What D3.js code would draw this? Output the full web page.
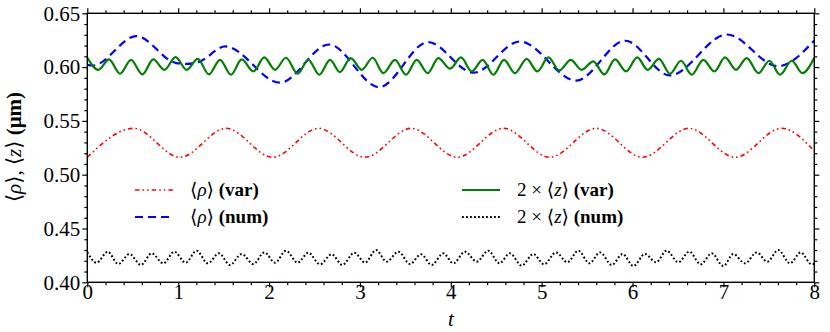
<!DOCTYPE html>
<html><head><meta charset="utf-8">
<script src="https://cdn.jsdelivr.net/npm/d3@7"></script>
<style>
body{margin:0;background:#fff;}
svg{display:block;font-family:"Liberation Serif","DejaVu Serif",serif;}
text{font-family:"Liberation Serif","DejaVu Serif",serif;}
</style></head>
<body><svg id="c" width="830" height="332"></svg>
<script>
// ---- data ----
const xTicks = [0,1,2,3,4,5,6,7,8];
const yTicks = [0.40,0.45,0.50,0.55,0.60,0.65];

const tRed = [0, 0.51, 1.02, 1.527, 2.04, 2.545, 3.055, 3.563, 4.07, 4.58, 5.09, 5.6, 6.11, 6.62, 7.13, 7.64, 8.0];
const vRed = [0.5162, 0.5431, 0.5162, 0.5431, 0.5162, 0.5431, 0.5162, 0.5431, 0.5162, 0.5431, 0.5162, 0.5431, 0.5162, 0.5431, 0.5162, 0.5431, 0.522];

const tBlue = [0, 0.06, 0.54, 0.97, 1.10, 1.22, 1.52, 2.12, 2.66, 3.21, 3.75, 4.25, 4.76, 5.38, 5.92, 6.41, 7.04, 7.6, 8.0];
const vBlue = [0.602, 0.6015, 0.6288, 0.604, 0.6030, 0.6045, 0.6192, 0.5855, 0.621, 0.5814, 0.6232, 0.5948, 0.6238, 0.5875, 0.6245, 0.5923, 0.6303, 0.6009, 0.6248];

const tGreen = [0,0.121,0.239,0.36,0.481,0.605,0.726,0.848,0.972,1.093,1.215,1.339,1.46,1.581,1.699,1.827,1.948,2.066,2.186,2.315,2.432,2.553,2.671,2.78,2.898,3.02,3.14,3.258,3.386,3.507,3.625,3.746,3.863,3.992,4.112,4.23,4.351,4.468,4.586,4.706,4.835,4.952,5.074,5.194,5.32,5.44,5.568,5.689,5.807,5.928,6.052,6.166,6.291,6.412,6.533,6.651,6.779,6.9,7.018,7.139,7.256,7.385,7.506,7.623,7.752,7.869,8.0];
const vGreen = [0.6087,0.5975,0.6071,0.5938,0.6068,0.5932,0.6071,0.5975,0.6093,0.5975,0.6077,0.5932,0.6068,0.5929,0.6071,0.596,0.609,0.5975,0.6087,0.5938,0.6068,0.5929,0.6068,0.5954,0.6084,0.5975,0.6087,0.5944,0.6068,0.5929,0.6068,0.5944,0.6084,0.5985,0.609,0.596,0.6068,0.5929,0.6068,0.5944,0.6077,0.596,0.609,0.5969,0.6068,0.5975,0.6053,0.5932,0.6071,0.596,0.609,0.5975,0.6077,0.5938,0.6059,0.5929,0.6068,0.596,0.609,0.5975,0.6084,0.5944,0.6059,0.5929,0.6059,0.5944,0.6087];

const tBlack = [0,0.103,0.224,0.342,0.463,0.591,0.708,0.837,0.958,1.082,1.203,1.325,1.449,1.57,1.699,1.827,1.948,2.066,2.186,2.315,2.432,2.561,2.689,2.806,2.938,3.056,3.177,3.294,3.423,3.551,3.672,3.79,3.918,4.028,4.156,4.285,4.413,4.534,4.651,4.78,4.908,5.026,5.158,5.282,5.404,5.525,5.642,5.771,5.891,6.009,6.137,6.258,6.375,6.504,6.625,6.75,6.871,6.999,7.109,7.237,7.366,7.483,7.604,7.733,7.85,7.971,8.0];
const vBlack = [0.428,0.4182,0.4284,0.417,0.4263,0.4161,0.4269,0.4176,0.4284,0.4182,0.4294,0.4176,0.4269,0.4161,0.4263,0.417,0.4278,0.4182,0.4294,0.4182,0.4275,0.4167,0.426,0.4161,0.4275,0.4182,0.43,0.4192,0.4284,0.417,0.426,0.4161,0.4269,0.4176,0.4285,0.4192,0.4294,0.4176,0.4269,0.4155,0.4263,0.4167,0.4278,0.4186,0.4294,0.4176,0.4278,0.4161,0.4263,0.4151,0.4263,0.4186,0.4294,0.4186,0.4285,0.4167,0.4269,0.4151,0.4263,0.4176,0.4278,0.4192,0.43,0.4176,0.4278,0.4167,0.4172];

const seriesPrefix = ["", "", "2 \u00D7 ", "2 \u00D7 "];
const seriesVar = ["\u03C1", "\u03C1", "z", "z"];
const seriesTags = ["(var)", "(num)", "(var)", "(num)"];

// ---- layout ----
const L = 87.3, R = 814.3, T = 13.3, B = 282.3;
const x = d3.scaleLinear().domain([0, 8]).range([L, R]);
const y = d3.scaleLinear().domain([0.40, 0.65]).range([B, T]);
const svg = d3.select("#c");

const series = [
  {t: tRed, v: vRed, color: "#ff0000", w: 1.6, dash: "4.5,3,1.6,3,1.6,3"},
  {t: tBlue, v: vBlue, color: "#0000ff", w: 2.2, dash: "8,5"},
  {t: tGreen, v: vGreen, color: "#008000", w: 2.2, dash: null},
  {t: tBlack, v: vBlack, color: "#000000", w: 2.0, dash: "1.8,2.2"}
];

const line = d3.line().x(d => x(d[0])).y(d => y(d[1])).curve(d3.curveMonotoneX);
const plot = svg.append("g");
plot.append("clipPath").attr("id","clip").append("rect")
  .attr("x", L).attr("y", T).attr("width", R-L).attr("height", B-T);
series.forEach(s => {
  const pts = s.t.map((t,i) => [t, s.v[i]]);
  plot.append("path").datum(pts).attr("d", line)
    .attr("fill","none").attr("stroke", s.color).attr("stroke-width", s.w)
    .attr("stroke-dasharray", s.dash).attr("clip-path","url(#clip)");
});

// ---- axes ----
const fs = 21;
const xMinor = d3.range(0, 8.0001, 0.2).filter(v => Math.abs(v - Math.round(v)) > 1e-6);
const yMinor = d3.range(0.40, 0.6501, 0.01).filter(v => Math.abs(v*20 - Math.round(v*20)) > 1e-6);

function styleAxis(g){ g.attr("font-family", null); g.select(".domain").remove(); g.selectAll("line").attr("stroke","#000").attr("stroke-width",1.2); }

// bottom: ticks + labels
svg.append("g").attr("transform",`translate(0,${B})`)
  .call(d3.axisBottom(x).tickValues(xTicks).tickFormat("").tickSize(5)).call(styleAxis);
svg.append("g").attr("transform",`translate(0,${B})`)
  .call(d3.axisBottom(x).tickValues(xMinor).tickFormat("").tickSize(3)).call(styleAxis);
svg.append("g").attr("transform",`translate(0,${B})`)
  .call(d3.axisBottom(x).tickValues(xTicks).tickFormat(d3.format("d")).tickSize(0).tickPadding(2))
  .call(styleAxis).call(g => g.selectAll("line").remove())
  .selectAll("text").attr("font-size", fs).attr("fill","#000");
// top
svg.append("g").attr("transform",`translate(0,${T})`)
  .call(d3.axisTop(x).tickValues(xTicks).tickFormat("").tickSize(5)).call(styleAxis);
svg.append("g").attr("transform",`translate(0,${T})`)
  .call(d3.axisTop(x).tickValues(xMinor).tickFormat("").tickSize(3)).call(styleAxis);

// left
svg.append("g").attr("transform",`translate(${L},0)`)
  .call(d3.axisLeft(y).tickValues(yTicks).tickFormat(d3.format(".2f")).tickSize(5).tickPadding(2))
  .call(styleAxis).selectAll("text").attr("font-size", fs).attr("fill","#000");
svg.append("g").attr("transform",`translate(${L},0)`)
  .call(d3.axisLeft(y).tickValues(yMinor).tickFormat("").tickSize(3)).call(styleAxis);
// right
svg.append("g").attr("transform",`translate(${R},0)`)
  .call(d3.axisRight(y).tickValues(yTicks).tickFormat("").tickSize(5)).call(styleAxis);
svg.append("g").attr("transform",`translate(${R},0)`)
  .call(d3.axisRight(y).tickValues(yMinor).tickFormat("").tickSize(3)).call(styleAxis);

// frame
svg.append("rect").attr("x",L).attr("y",T).attr("width",R-L).attr("height",B-T)
  .attr("fill","none").attr("stroke","#000").attr("stroke-width",1.4);

// axis titles
svg.append("text").attr("x", x(4)).attr("y", 326).attr("text-anchor","middle")
  .attr("font-size", 21).attr("font-style","italic").text("t");

const yl = svg.append("text").attr("transform","translate(21,147) rotate(-90)")
  .attr("text-anchor","middle").attr("font-size", 21);
yl.append("tspan").text("\u27E8");
yl.append("tspan").attr("font-style","italic").text("\u03C1");
yl.append("tspan").text("\u27E9, \u27E8");
yl.append("tspan").attr("font-style","italic").text("z");
yl.append("tspan").text("\u27E9 ");
yl.append("tspan").attr("font-weight","bold").text("(\u03BCm)");

// legend
const legPos = [[135,190],[135,217],[462,190],[462,217]];
series.forEach((s,i) => {
  const [lx, ly] = legPos[i];
  svg.append("line").attr("x1",lx).attr("x2",lx+38).attr("y1",ly).attr("y2",ly)
    .attr("stroke",s.color).attr("stroke-width",s.w).attr("stroke-dasharray",s.dash);
  const tx = svg.append("text").attr("x", lx + 55).attr("y", ly + 6).attr("font-size", 19);
  tx.append("tspan").text(seriesPrefix[i] + "\u27E8");
  tx.append("tspan").attr("font-style","italic").text(seriesVar[i]);
  tx.append("tspan").text("\u27E9 ");
  tx.append("tspan").attr("font-weight","bold").text(seriesTags[i]);
});
</script></body></html>
